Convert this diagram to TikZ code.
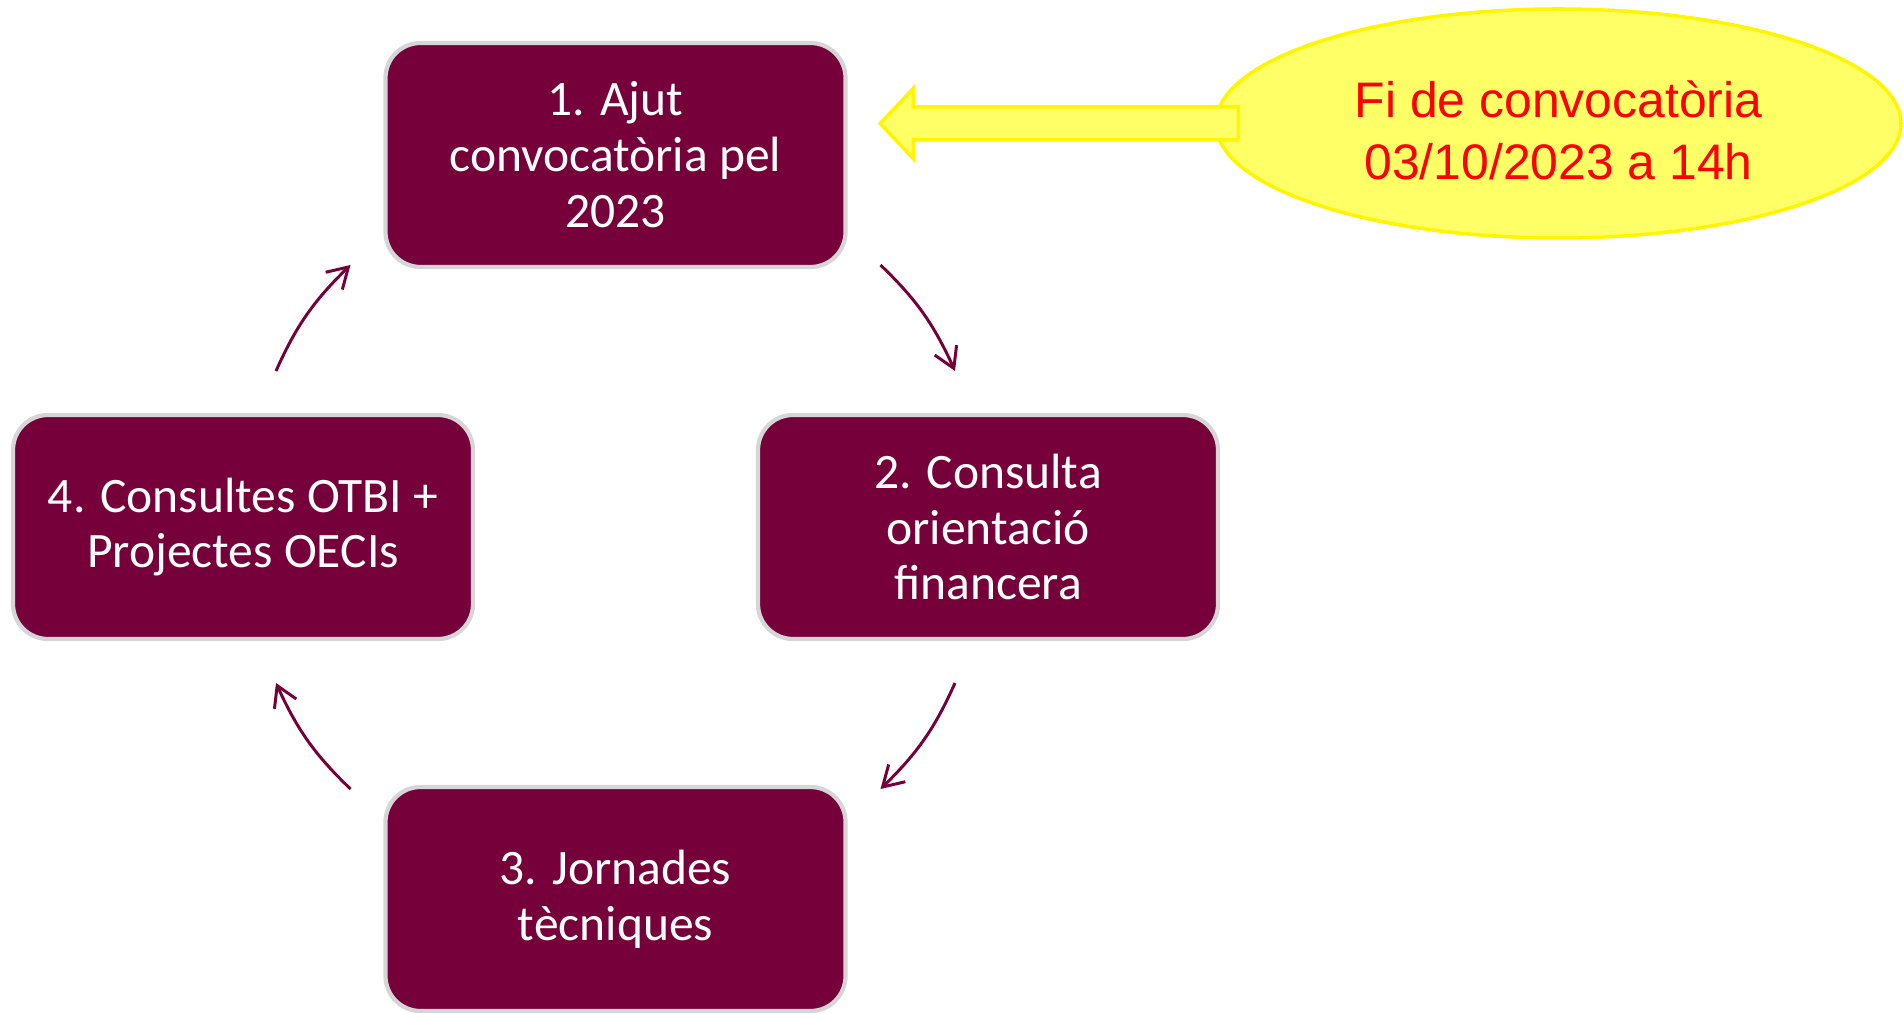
\documentclass[tikz,border=0pt]{standalone}
\usepackage{fontspec}
\setmainfont{Carlito}
\newfontfamily\notefont{Liberation Sans}
\usetikzlibrary{positioning}
\usetikzlibrary{shapes.geometric, arrows.meta, calc, bending}
\definecolor{plum}{RGB}{118,0,58}
\definecolor{rimgray}{RGB}{214,214,214}
\definecolor{notefill}{RGB}{255,255,102}
\definecolor{noteline}{RGB}{255,245,0}
\tikzstyle{stagebox} = [rectangle, rounded corners=0.35cm, minimum width=4.6cm, minimum height=2.24cm, draw=rimgray, line width=1.2pt, fill=plum, text=white, align=center, font=\fontsize{14.1}{15.9}\selectfont]
\tikzstyle{cyclearrow} = [line width=0.85pt, draw=plum, -{Straight Barb[length=2mm,width=2.4mm]}]
\tikzstyle{note} = [ellipse, minimum width=6.85cm, minimum height=2.29cm, inner sep=0pt, draw=noteline, line width=1pt, fill=notefill]
\tikzstyle{notetext} = [text=red, align=center, font=\notefont\fontsize{14.2}{17.6}\selectfont]
\tikzstyle{yellowarrow} = [draw=noteline, line width=1pt, fill=notefill]

\begin{document}
\begin{tikzpicture}
\useasboundingbox (0,0) rectangle (19.03,10.13);
\node[stagebox] (b1) at (6.155,8.58) {1. Ajut\\convocatòria pel\\2023};
\node[stagebox] (b2) at (9.88,4.86) {2. Consulta\\orientació\\financera};
\node[stagebox] (b3) at (6.155,1.14) {3. Jornades\\tècniques};
\node[stagebox] (b4) at (2.43,4.86) {4. Consultes OTBI +\\Projectes OECIs};
\draw[cyclearrow] ($(b1)+(2.65,-1.1)$) to[bend left=11] ($(b2)+(-0.33,1.56)$);
\draw[cyclearrow] ($(b2)+(-0.33,-1.56)$) to[bend left=11] ($(b3)+(2.65,1.1)$);
\draw[cyclearrow] ($(b3)+(-2.65,1.1)$) to[bend left=11] ($(b4)+(0.33,-1.56)$);
\draw[cyclearrow] ($(b4)+(0.33,1.56)$) to[bend left=11] ($(b1)+(-2.65,-1.1)$);
\node[note] (fi) at (15.585,8.895) {};
\node[notetext] (fitext) at ($(fi)+(0,-0.07)$) {Fi de convocatòria\\03/10/2023 a 14h};
\draw[yellowarrow] ($(fi.west)+(-3.34,0)$) -- ++(0.33,0.35) -- ++(0,-0.185) -- ++(3.25,0) -- ++(0,-0.33) -- ++(-3.25,0) -- ++(0,-0.185) -- cycle;
\end{tikzpicture}
\end{document}
